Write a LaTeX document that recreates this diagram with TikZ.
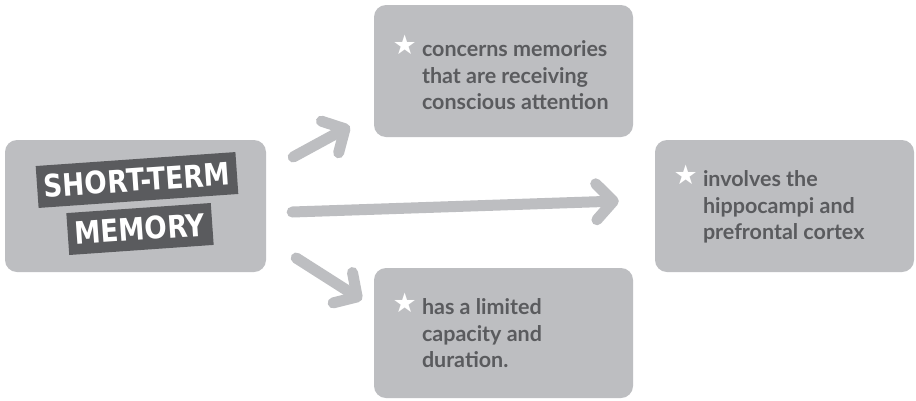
\documentclass[tikz,border=0pt]{standalone}
\usepackage{fontspec}
\setmainfont{Lato}
\newfontfamily\titlefont{DejaVu Sans}[FakeStretch=0.85]
\newfontfamily\symfont{DejaVu Sans}
\usepackage{tikz}
\usetikzlibrary{positioning,calc,arrows.meta}
\definecolor{boxgray}{HTML}{BDBEC1}
\definecolor{inkgray}{HTML}{5A5B5E}
\tikzset{block/.style={rectangle,rounded corners=12pt,fill=boxgray,minimum width=259pt,minimum height=132pt,inner sep=0pt}}
\tikzset{tag/.style={fill=inkgray,text=white,font=\titlefont\bfseries\fontsize{31}{31}\selectfont,rotate=4,inner xsep=7pt,inner ysep=0pt,minimum height=42pt}}
\tikzset{note/.style={text=inkgray,font=\bfseries\fontsize{21.5}{26.5}\selectfont,align=left,anchor=base west,inner sep=0pt}}
\tikzset{starmark/.style={text=white,font=\symfont\fontsize{27}{27}\selectfont,inner sep=0pt}}
\tikzstyle{arrow} = [line width=11pt,draw=boxgray,line cap=round,line join=round,-{Straight Barb[length=17pt,width=36pt,round]}]

\begin{document}
\begin{tikzpicture}[x=1pt,y=-1pt]
    \fill[white] (0,0) rectangle (916,400);
    \useasboundingbox (0,0) rectangle (916,400);

    \node[block, minimum width=261pt] (stm) at (135.5,206) {};
    \node[tag] (short) at ($(stm.center)+(1.5,-26)$) {SHORT-TERM};
    \node[tag] (mem) at ($(stm.center)+(4.5,23)$) {MEMORY};

    % base of a note is its last line, so the offsets count three lines
    \node[block] (attn) at (503.5,71) {};
    \node[note] (attnt) at ($(attn.north west)+(48,105)$) {concerns memories\\that are receiving\\conscious attention};
    \node[starmark] (attns) at ($(attnt.base west)+(-17,-65)$) {★};

    \node[block] (hippo) at (784.5,206) {};
    \node[note] (hippot) at ($(hippo.north west)+(48,100)$) {involves the\\hippocampi and\\prefrontal cortex};
    \node[starmark] (hippos) at ($(hippot.base west)+(-17,-65)$) {★};

    \node[block, minimum height=130pt] (cap) at (503.5,333) {};
    \node[note] (capt) at ($(cap.north west)+(48,100)$) {has a limited\\capacity and\\duration.};
    \node[starmark] (caps) at ($(capt.base west)+(-17,-65)$) {★};

    \draw[arrow] ($(stm.east)+(27,-49)$) -- ($(attn.south west)+(-24,-11)$);
    \draw[arrow] ($(stm.east)+(26,6)$) -- ($(hippo.west)+(-36,-5)$);
    \draw[arrow] ($(stm.east)+(30,52)$) -- ($(cap.north west)+(-12,32)$);
\end{tikzpicture}
\end{document}
